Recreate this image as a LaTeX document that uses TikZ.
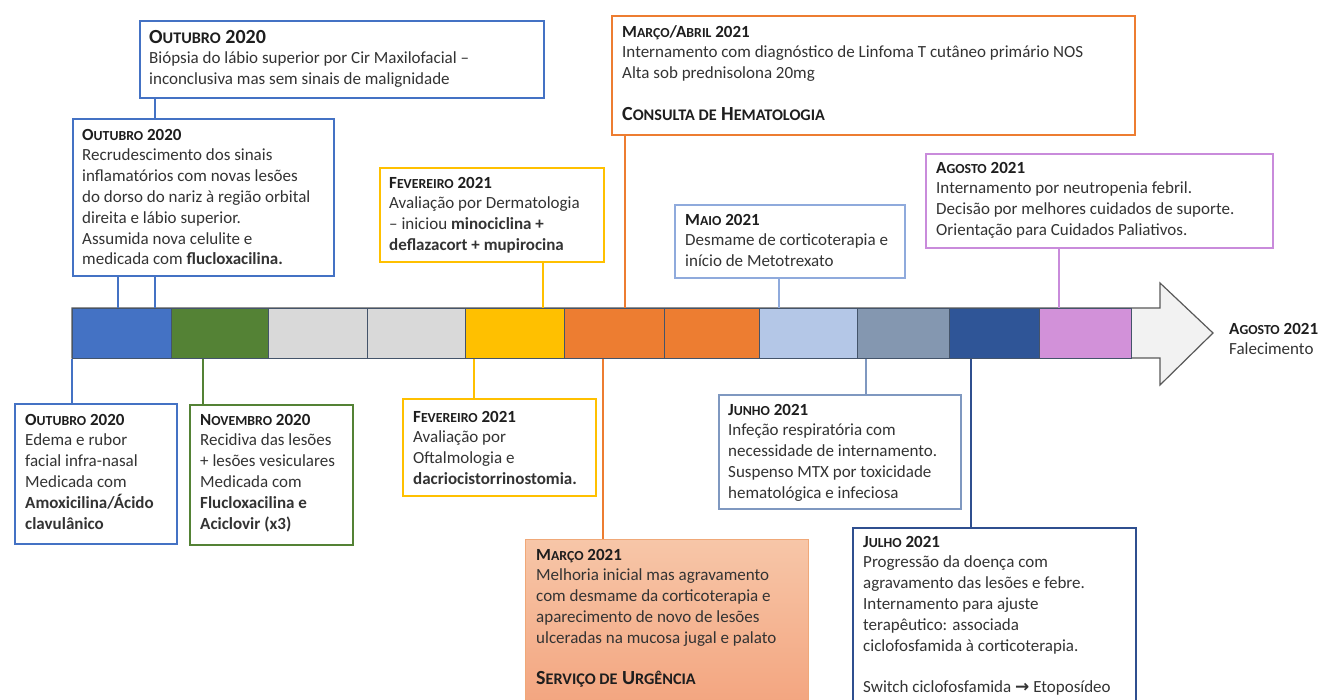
\documentclass[tikz,border=0pt]{standalone}
\usepackage{fontspec}
\setmainfont{Carlito}
\newfontfamily\djv{DejaVu Sans}
\definecolor{cblue}{HTML}{4472C4}
\definecolor{cgreen}{HTML}{548235}
\definecolor{cgrey}{HTML}{D9D9D9}
\definecolor{cyellow}{HTML}{FFC000}
\definecolor{corange}{HTML}{ED7D31}
\definecolor{clblue}{HTML}{B4C7E7}
\definecolor{cgblue}{HTML}{8497B0}
\definecolor{cdblue}{HTML}{2F5597}
\definecolor{cpink}{HTML}{D291D9}
\definecolor{cviolet}{HTML}{C98BDB}
\definecolor{celine}{HTML}{8FAADC}
\definecolor{ckline}{HTML}{7F98C0}
\definecolor{cnavy}{HTML}{2F4F8F}
\definecolor{carrow}{HTML}{F2F2F2}
\definecolor{carrowline}{HTML}{595959}
\definecolor{segline}{HTML}{44546A}
\definecolor{jtop}{HTML}{F7C6A8}
\definecolor{jbot}{HTML}{F3A47E}
\definecolor{jline}{HTML}{F0A878}
\definecolor{hdcol}{HTML}{1E1E1E}
\definecolor{bodycol}{HTML}{333333}
\newcommand\hdr[1]{{\bfseries\color{hdcol}#1}}
\newcommand\mysc[2][13.8pt]{{\fontsize{#1}{20.8pt}\selectfont #2}}
\newcommand\bigsz{\fontsize{20pt}{20.8pt}\selectfont}
\tikzset{
  bx/.style={draw=#1, line width=1.8pt, fill=white, anchor=north west, inner sep=0pt},
  txt/.style={anchor=north west, inner sep=0pt, align=left, text=bodycol, font=\fontsize{17pt}{20.8pt}\selectfont},
  con/.style={draw=#1, line width=1.5pt},
  seg/.style={fill=#1, draw=segline, line width=0.9pt, anchor=north west, inner sep=0pt, minimum height=50pt},
}
\begin{document}
\begin{tikzpicture}[x=1pt,y=-1pt]
\useasboundingbox (0,0) rectangle (1322,700);
% ---- boxes
\node[bx=cblue, minimum width=404pt, minimum height=77pt] (A) at (139,20) {};
\node[txt] (At) at (149,28.4) {\strut\hdr{\bigsz O\mysc[16.2pt]{UTUBRO} 2020}\\
Biópsia do lábio superior por Cir Maxilofacial –\\
inconclusiva mas sem sinais de malignidade};

\node[bx=cblue, minimum width=261pt, minimum height=157pt] (B) at (72,118) {};
\node[txt] (Bt) at (82,125.4) {\strut\hdr{O\mysc{UTUBRO} 2020}\\
Recrudescimento dos sinais\\
inflamatórios com novas lesões\\
do dorso do nariz à região orbital\\
direita e lábio superior.\\
Assumida nova celulite e\\
medicada com \textbf{flucloxacilina.}};

\node[bx=cyellow, minimum width=224pt, minimum height=94pt] (C) at (379,167) {};
\node[txt] (Ct) at (389,173.4) {\strut\hdr{F\mysc{EVEREIRO} 2021}\\
Avaliação por Dermatologia\\
– iniciou \textbf{minociclina +}\\
\textbf{deflazacort + mupirocina}};

\node[bx=corange, minimum width=523pt, minimum height=119pt] (D) at (611,15) {};
\node[txt] (Dt) at (622,22.4) {\strut\hdr{M\mysc{ARÇO}/A\mysc{BRIL} 2021}\\
Internamento com diagnóstico de Linfoma T cutâneo primário NOS\\
Alta sob prednisolona 20mg\\
\strut\\
\hdr{\bigsz C\mysc[16.2pt]{ONSULTA DE} H\mysc[16.2pt]{EMATOLOGIA}}};

\node[bx=celine, minimum width=230pt, minimum height=73pt] (E) at (674,204) {};
\node[txt] (Et) at (685,210.4) {\strut\hdr{M\mysc{AIO} 2021}\\
Desmame de corticoterapia e\\
início de Metotrexato};

\node[bx=cviolet, minimum width=347pt, minimum height=94pt] (F) at (925,153) {};
\node[txt] (Ft) at (936,158.4) {\strut\hdr{A\mysc{GOSTO} 2021}\\
Internamento por neutropenia febril.\\
Decisão por melhores cuidados de suporte.\\
Orientação para Cuidados Paliativos.};

\node[txt] (Zt) at (1229,319.4) {\strut\hdr{A\mysc{GOSTO} 2021}\\Falecimento};

\node[bx=cblue, minimum width=162pt, minimum height=140pt] (G) at (14,403) {};
\node[txt] (Gt) at (25,410.4) {\strut\hdr{O\mysc{UTUBRO} 2020}\\
Edema e rubor\\
facial infra-nasal\\
Medicada com\\
\textbf{Amoxicilina/Ácido}\\
\textbf{clavulânico}};

\node[bx=cgreen, minimum width=163pt, minimum height=140pt] (H) at (189,404) {};
\node[txt] (Ht) at (200,410.4) {\strut\hdr{N\mysc{OVEMBRO} 2020}\\
Recidiva das lesões\\
+ lesões vesiculares\\
Medicada com\\
\textbf{Flucloxacilina e}\\
\textbf{Aciclovir (x3)}};

\node[bx=cyellow, minimum width=193pt, minimum height=97pt] (I) at (402,398) {};
\node[txt] (It) at (413,407.4) {\strut\hdr{F\mysc{EVEREIRO} 2021}\\
Avaliação por\\
Oftalmologia e\\
\textbf{dacriocistorrinostomia.}};

\node[bx=jline, line width=1.2pt, top color=jtop, bottom color=jbot, minimum width=283pt, minimum height=171pt] (J) at (525,539) {};
\node[txt] (Jt) at (536,545.4) {\strut\hdr{M\mysc{ARÇO} 2021}\\
Melhoria inicial mas agravamento\\
com desmame da corticoterapia e\\
aparecimento de novo de lesões\\
ulceradas na mucosa jugal e palato\\
\strut\\
\hdr{\bigsz S\mysc[16.2pt]{ERVIÇO DE} U\mysc[16.2pt]{RGÊNCIA}}};

\node[bx=ckline, minimum width=242pt, minimum height=114pt] (K) at (718,394) {};
\node[txt] (Kt) at (728,400.4) {\strut\hdr{J\mysc{UNHO} 2021}\\
Infeção respiratória com\\
necessidade de internamento.\\
Suspenso MTX por toxicidade\\
hematológica e infeciosa};

\node[bx=cnavy, minimum width=283pt, minimum height=183pt] (L) at (852,527) {};
\node[txt] (Lt) at (863,532.4) {\strut\hdr{J\mysc{ULHO} 2021}\\
Progressão da doença com\\
agravamento das lesões e febre.\\
Internamento para ajuste\\
terapêutico: associada\\
ciclofosfamida à corticoterapia.\\
\strut\\
Switch ciclofosfamida {\djv\bfseries →} Etoposídeo};

% ---- timeline arrow
\draw[fill=carrow, draw=carrowline, line width=1.2pt] (72,308) -- (1160,308) -- (1160,283) -- (1213,333) -- (1160,385) -- (1160,358) -- (72,358) -- cycle;
\node[seg=cblue,   minimum width=98.5pt] (s1)  at (72,308) {};
\node[seg=cgreen,  minimum width=97.5pt] (s2)  at (170.5,308) {};
\node[seg=cgrey,   minimum width=98.5pt] (s3)  at (268,308) {};
\node[seg=cgrey,   minimum width=98.5pt] (s4)  at (366.5,308) {};
\node[seg=cyellow, minimum width=99pt]   (s5)  at (465,308) {};
\node[seg=corange, minimum width=99.5pt] (s6)  at (564,308) {};
\node[seg=corange, minimum width=95.5pt] (s7)  at (663.5,308) {};
\node[seg=clblue,  minimum width=98pt]   (s8)  at (759,308) {};
\node[seg=cgblue,  minimum width=92pt]   (s9)  at (857,308) {};
\node[seg=cdblue,  minimum width=90pt]   (s10) at (949,308) {};
\node[seg=cpink,   minimum width=92pt]   (s11) at (1039,308) {};

% ---- connector x positions
\coordinate (xA) at (155,0);
\coordinate (xB) at (118,0);
\coordinate (xC) at (543,0);
\coordinate (xD) at (625,0);
\coordinate (xE) at (779,0);
\coordinate (xF) at (1059,0);
\coordinate (xG) at (72,0);
\coordinate (xH) at (203,0);
\coordinate (xI) at (474,0);
\coordinate (xJ) at (603,0);
\coordinate (xK) at (866,0);
\coordinate (xL) at (971,0);

% ---- connectors
\draw[con=cblue] (A.south -| xA) -- (B.north -| xA);
\draw[con=cblue] (B.south -| xA) -- (s1.north -| xA);
\draw[con=cblue] (B.south -| xB) -- (s1.north -| xB);
\draw[con=cyellow] (C.south -| xC) -- (s5.north -| xC);
\draw[con=corange] (D.south -| xD) -- (s6.north -| xD);
\draw[con=celine] (E.south -| xE) -- (s8.north -| xE);
\draw[con=cviolet] (F.south -| xF) -- (s11.north -| xF);
\draw[con=cblue] (s1.south -| xG) -- (G.north -| xG);
\draw[con=cgreen] (s2.south -| xH) -- (H.north -| xH);
\draw[con=cyellow] (s5.south -| xI) -- (I.north -| xI);
\draw[con=corange] (s6.south -| xJ) -- (J.north -| xJ);
\draw[con=ckline] (s9.south -| xK) -- (K.north -| xK);
\draw[con=cnavy] (s10.south -| xL) -- (L.north -| xL);
\end{tikzpicture}
\end{document}
